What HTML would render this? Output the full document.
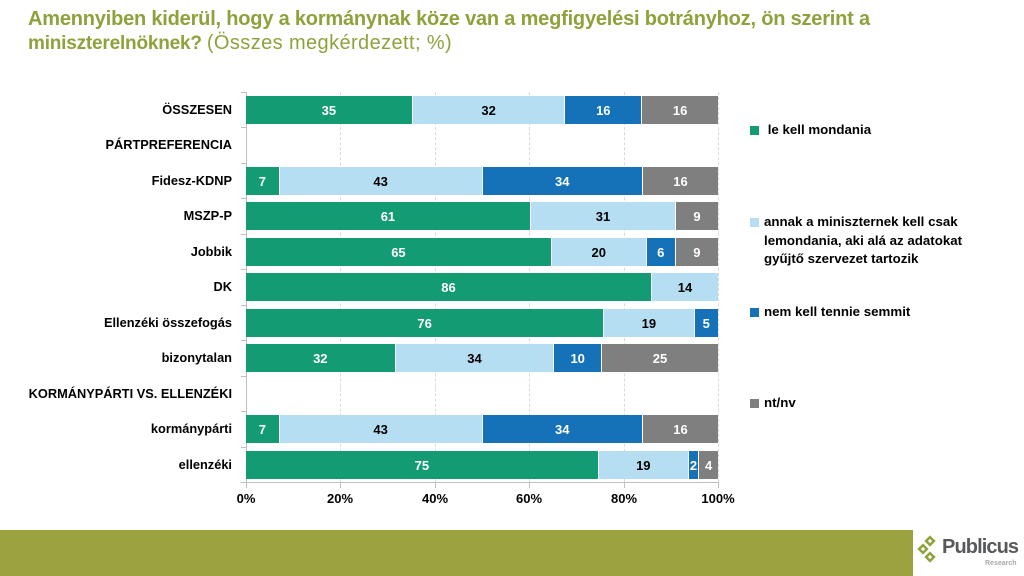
<!DOCTYPE html>
<html><head><meta charset="utf-8">
<style>
*{margin:0;padding:0;box-sizing:border-box}
body{width:1024px;height:576px;background:#fff;position:relative;overflow:hidden;font-family:"Liberation Sans",Arial,sans-serif}
.t{position:absolute;left:28px;color:#8ea23b;font-size:19px;font-weight:bold;white-space:nowrap;letter-spacing:-0.2px}
.t span{font-weight:normal;font-size:20px;letter-spacing:0.4px}
.lab{position:absolute;right:792px;font-size:12.8px;font-weight:bold;color:#000;white-space:nowrap;text-align:right;line-height:14px}
.row{position:absolute;left:246px;width:472px;height:28px;display:flex}
.row div{height:28px;display:flex;align-items:center;justify-content:center;font-size:13px;font-weight:bold;color:#fff;border-right:1px solid #fff}
.row div:last-child{border-right:none}
.g{background:#139b74}.l{background:#b6def2;color:#000!important}.b{background:#1572b9}.y{background:#7f7f7f}
.grid{position:absolute;top:92px;height:390px;width:0;border-left:1px dashed #d9d9d9}
.tick{position:absolute;font-size:13px;font-weight:bold;top:491px;width:60px;text-align:center}
.leg{position:absolute;left:750px;font-size:13.3px;font-weight:bold;line-height:18.5px}
.leg i{position:absolute;left:0;top:5px;width:9px;height:9px}
.leg p{margin-left:14px}
</style></head><body>
<div class="t" style="top:8px;font-size:20px">Amennyiben kiderül, hogy a kormánynak köze van a megfigyelési botrányhoz, ön szerint a</div>
<div class="t" style="top:32px">miniszterelnöknek? <span>(Összes megkérdezett; %)</span></div>

<div class="grid" style="left:340px"></div>
<div class="grid" style="left:435px"></div>
<div class="grid" style="left:529px"></div>
<div class="grid" style="left:624px"></div>
<div class="grid" style="left:718px"></div>

<svg style="position:absolute;left:0;top:0" width="1024" height="576">
<g stroke="#bfbfbf" stroke-width="1">
<line x1="246.5" y1="92" x2="246.5" y2="483"/>
<line x1="246" y1="482.5" x2="718" y2="482.5"/>
<line x1="241" y1="92.5" x2="246" y2="92.5"/>
<line x1="241" y1="127.5" x2="246" y2="127.5"/>
<line x1="241" y1="163.5" x2="246" y2="163.5"/>
<line x1="241" y1="198.5" x2="246" y2="198.5"/>
<line x1="241" y1="234.5" x2="246" y2="234.5"/>
<line x1="241" y1="269.5" x2="246" y2="269.5"/>
<line x1="241" y1="305.5" x2="246" y2="305.5"/>
<line x1="241" y1="340.5" x2="246" y2="340.5"/>
<line x1="241" y1="376.5" x2="246" y2="376.5"/>
<line x1="241" y1="411.5" x2="246" y2="411.5"/>
<line x1="241" y1="447.5" x2="246" y2="447.5"/>
<line x1="241" y1="482.5" x2="246" y2="482.5"/>
<line x1="246.5" y1="482" x2="246.5" y2="488"/>
<line x1="340.5" y1="482" x2="340.5" y2="488"/>
<line x1="435.5" y1="482" x2="435.5" y2="488"/>
<line x1="529.5" y1="482" x2="529.5" y2="488"/>
<line x1="624.5" y1="482" x2="624.5" y2="488"/>
<line x1="718.5" y1="482" x2="718.5" y2="488"/>
</g>
</svg>

<div class="lab" style="top:103px">ÖSSZESEN</div>
<div class="lab" style="top:138px">PÁRTPREFERENCIA</div>
<div class="lab" style="top:174px">Fidesz-KDNP</div>
<div class="lab" style="top:209px">MSZP-P</div>
<div class="lab" style="top:245px">Jobbik</div>
<div class="lab" style="top:280px">DK</div>
<div class="lab" style="top:316px">Ellenzéki összefogás</div>
<div class="lab" style="top:351px">bizonytalan</div>
<div class="lab" style="top:387px">KORMÁNYPÁRTI VS. ELLENZÉKI</div>
<div class="lab" style="top:422px">kormánypárti</div>
<div class="lab" style="top:458px">ellenzéki</div>

<div class="row" style="top:96px"><div class="g" style="flex:35">35</div><div class="l" style="flex:32">32</div><div class="b" style="flex:16">16</div><div class="y" style="flex:16">16</div></div>
<div class="row" style="top:167px"><div class="g" style="flex:7">7</div><div class="l" style="flex:43">43</div><div class="b" style="flex:34">34</div><div class="y" style="flex:16">16</div></div>
<div class="row" style="top:202px"><div class="g" style="flex:61">61</div><div class="l" style="flex:31">31</div><div class="y" style="flex:9">9</div></div>
<div class="row" style="top:238px"><div class="g" style="flex:65">65</div><div class="l" style="flex:20">20</div><div class="b" style="flex:6">6</div><div class="y" style="flex:9">9</div></div>
<div class="row" style="top:273px"><div class="g" style="flex:86">86</div><div class="l" style="flex:14">14</div></div>
<div class="row" style="top:309px"><div class="g" style="flex:76">76</div><div class="l" style="flex:19">19</div><div class="b" style="flex:5">5</div></div>
<div class="row" style="top:344px"><div class="g" style="flex:32">32</div><div class="l" style="flex:34">34</div><div class="b" style="flex:10">10</div><div class="y" style="flex:25">25</div></div>
<div class="row" style="top:415px"><div class="g" style="flex:7">7</div><div class="l" style="flex:43">43</div><div class="b" style="flex:34">34</div><div class="y" style="flex:16">16</div></div>
<div class="row" style="top:451px"><div class="g" style="flex:75">75</div><div class="l" style="flex:19">19</div><div class="b" style="flex:2">2</div><div class="y" style="flex:4">4</div></div>

<div class="tick" style="left:216px">0%</div>
<div class="tick" style="left:310px">20%</div>
<div class="tick" style="left:405px">40%</div>
<div class="tick" style="left:499px">60%</div>
<div class="tick" style="left:594px">80%</div>
<div class="tick" style="left:688px">100%</div>

<div class="leg" style="top:121px"><i style="background:#139b74"></i><p>&nbsp;le kell mondania</p></div>
<div class="leg" style="top:213px"><i style="background:#b6def2"></i><p>annak a miniszternek kell csak<br>lemondania, aki alá az adatokat<br>gyűjtő szervezet tartozik</p></div>
<div class="leg" style="top:303px"><i style="background:#1572b9"></i><p>nem kell tennie semmit</p></div>
<div class="leg" style="top:394px"><i style="background:#7f7f7f"></i><p>nt/nv</p></div>

<div style="position:absolute;left:0;top:530px;width:913px;height:46px;background:#9aa33f"></div>
<svg style="position:absolute;left:914px;top:534px" width="28" height="32">
<g fill="#8ea23b">
<rect x="12" y="3" width="8" height="8" transform="rotate(45 16 7)"/>
<rect x="5" y="11" width="8" height="8" transform="rotate(45 9 15)"/>
<rect x="12" y="19" width="8" height="8" transform="rotate(45 16 23)"/>
</g>
<g fill="#fff">
<rect x="14.5" y="5.5" width="3" height="3" transform="rotate(45 16 7)"/>
<rect x="7.5" y="13.5" width="3" height="3" transform="rotate(45 9 15)"/>
<rect x="14.5" y="21.5" width="3" height="3" transform="rotate(45 16 23)"/>
</g>
</svg>
<div style="position:absolute;left:942px;top:536px;font-size:20px;font-weight:bold;color:#58595b;letter-spacing:-0.9px">Publicus</div>
<div style="position:absolute;left:985px;top:560px;font-size:7px;font-weight:bold;color:#a7a9ac">Research</div>
</body></html>
